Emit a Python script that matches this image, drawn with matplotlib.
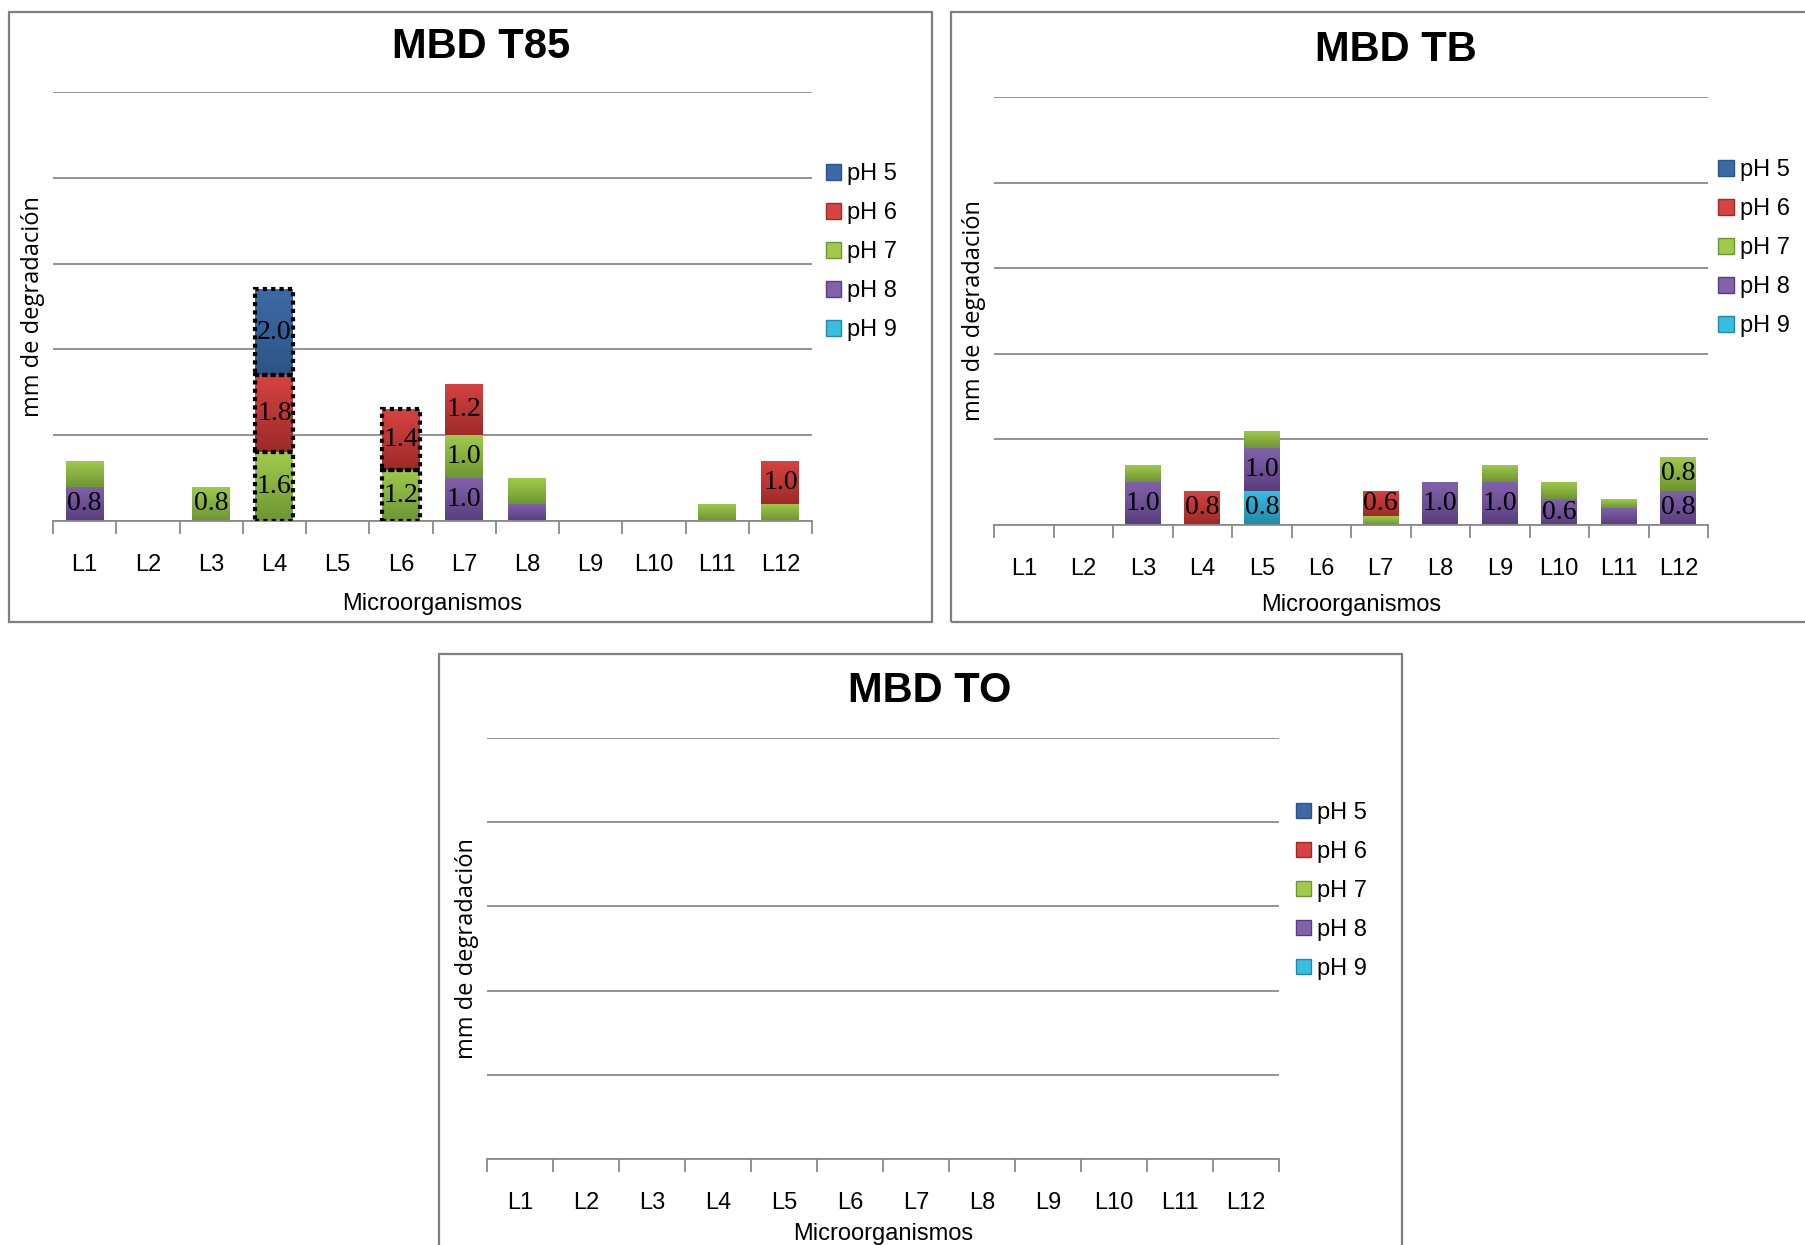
import numpy as np
import matplotlib
matplotlib.use("Agg")
import matplotlib.pyplot as plt
from matplotlib.colors import LinearSegmentedColormap
from matplotlib.patches import Patch, Rectangle

plt.rcParams['font.family'] = ['Liberation Sans', 'DejaVu Sans']

categories = ["L1", "L2", "L3", "L4", "L5", "L6", "L7", "L8", "L9", "L10", "L11", "L12"]
series_names = ["pH 5", "pH 6", "pH 7", "pH 8", "pH 9"]

# T85 values (mm)
t85_ph5 = [0, 0, 0, 2.0, 0, 0, 0, 0, 0, 0, 0, 0]
t85_ph6 = [0, 0, 0, 1.8, 0, 1.4, 1.2, 0, 0, 0, 0, 1.0]
t85_ph7 = [0.6, 0, 0.8, 1.6, 0, 1.2, 1.0, 0.6, 0, 0, 0.4, 0.4]
t85_ph8 = [0.8, 0, 0, 0, 0, 0, 1.0, 0.4, 0, 0, 0, 0]
t85_ph9 = [0] * 12

# TB values (mm)
tb_ph5 = [0] * 12
tb_ph6 = [0, 0, 0, 0.8, 0, 0, 0.6, 0, 0, 0, 0, 0]
tb_ph7 = [0, 0, 0.4, 0, 0.4, 0, 0.2, 0, 0.4, 0.4, 0.2, 0.8]
tb_ph8 = [0, 0, 1.0, 0, 1.0, 0, 0, 1.0, 1.0, 0.6, 0.4, 0.8]
tb_ph9 = [0, 0, 0, 0, 0.8, 0, 0, 0, 0, 0, 0, 0]

# TO values (mm)
to_ph5 = [0] * 12
to_ph6 = [0] * 12
to_ph7 = [0] * 12
to_ph8 = [0] * 12
to_ph9 = [0] * 12

# which segments carry a data label: (series, category)
t85_labels = [("pH 8", "L1"), ("pH 7", "L3"), ("pH 7", "L4"), ("pH 6", "L4"), ("pH 5", "L4"),
              ("pH 7", "L6"), ("pH 6", "L6"), ("pH 8", "L7"), ("pH 7", "L7"), ("pH 6", "L7"),
              ("pH 6", "L12")]
tb_labels = [("pH 8", "L3"), ("pH 6", "L4"), ("pH 9", "L5"), ("pH 8", "L5"), ("pH 6", "L7"),
             ("pH 8", "L8"), ("pH 8", "L9"), ("pH 8", "L10"), ("pH 8", "L12"), ("pH 7", "L12")]
# segments drawn with a dotted outline
t85_dotted = [("pH 7", "L4"), ("pH 6", "L4"), ("pH 5", "L4"), ("pH 7", "L6"), ("pH 6", "L6")]

# (top, bottom) colours of the gradient for each series
colors = {
    "pH 5": ("#3d6aa6", "#2c5486"),
    "pH 6": ("#d64341", "#9e2a28"),
    "pH 7": ("#a0ca4c", "#6e9632"),
    "pH 8": ("#8262ab", "#593e7e"),
    "pH 9": ("#36bde0", "#2389aa"),
}
# stacking order, bottom to top
stack_order = ["pH 9", "pH 8", "pH 7", "pH 6", "pH 5"]


def draw_panel(fig, rect, title, title_xy, data, labels=(), dotted=(), legend_xy=(0, 0), xpad=9):
    ax = fig.add_axes(rect)
    x = np.arange(len(categories))
    bottom = np.zeros(len(categories))
    grad = np.linspace(1, 0, 64).reshape(-1, 1)
    for name in stack_order:
        vals = np.array(data[name], dtype=float)
        top_c, bot_c = colors[name]
        bars = ax.bar(x, vals, width=0.6, bottom=bottom, color=bot_c, linewidth=0, zorder=2)
        cmap = LinearSegmentedColormap.from_list(name, [bot_c, top_c])
        for i, b in enumerate(bars):
            if vals[i] <= 0:
                continue
            bx, by = b.get_x(), b.get_y()
            bw, bh = b.get_width(), b.get_height()
            im = ax.imshow(grad, extent=[bx, bx + bw, by, by + bh], aspect="auto",
                           cmap=cmap, vmin=0, vmax=1, zorder=2.5, interpolation="bicubic")
            im.set_clip_path(b)
            if (name, categories[i]) in dotted:
                ax.add_patch(Rectangle((bx, by), bw, bh, fill=False, edgecolor="black",
                                       linestyle=(0, (1, 1)), linewidth=3, zorder=4))
            if (name, categories[i]) in labels:
                ax.text(bx + bw / 2, by + bh / 2, f"{vals[i]:.1f}", ha="center", va="center",
                        fontsize=20, color="black", zorder=5,
                        family=["Liberation Serif", "DejaVu Serif"])
        bottom += vals

    ax.set_xlim(-0.5, len(categories) - 0.5)
    ax.set_ylim(0, 10)
    ax.set_yticks([0, 2, 4, 6, 8, 10])
    ax.yaxis.grid(True, color="#8a8a8a", linewidth=1.3)
    ax.set_axisbelow(True)
    ax.tick_params(axis="y", left=False, labelleft=False)
    for s in ["top", "right", "left"]:
        ax.spines[s].set_visible(False)
    ax.spines["bottom"].set_color("#8a8a8a")
    ax.spines["bottom"].set_linewidth(1.3)
    ax.set_xticks(np.arange(-0.5, len(categories)), minor=False)
    ax.set_xticklabels([])
    ax.tick_params(axis="x", which="major", direction="out", length=9, color="#8a8a8a", width=1.3)
    ax.set_xticks(x, minor=True)
    ax.set_xticklabels(categories, minor=True, fontsize=17)
    ax.tick_params(axis="x", which="minor", length=0, pad=24)
    ax.set_xlabel("Microorganismos", fontsize=17, labelpad=xpad)
    ax.set_ylabel("mm de degradación", fontsize=17, family=["Open Sans", "DejaVu Sans"], labelpad=6)

    fig.text(title_xy[0], title_xy[1], title, ha="center", va="center", fontsize=30,
             fontweight="bold")

    handles = [Patch(facecolor=colors[n][0], edgecolor=colors[n][1], label=n) for n in series_names]
    fig.legend(handles=handles, loc="upper left", bbox_to_anchor=legend_xy, frameon=False,
               fontsize=17, handlelength=0.65, handleheight=0.65, handletextpad=0.25,
               labelspacing=0.72, borderpad=0, borderaxespad=0)
    return ax


fig = plt.figure(figsize=(18.05, 12.45), dpi=100)

# panel frames
fig.patches.append(Rectangle((0.005, 0.5004), 0.5114, 0.49, transform=fig.transFigure,
                             fill=False, edgecolor="#7f7f7f", linewidth=1.6))
fig.patches.append(Rectangle((0.5269, 0.5004), 0.49, 0.49, transform=fig.transFigure,
                             fill=False, edgecolor="#7f7f7f", linewidth=1.6))
fig.patches.append(Rectangle((0.2432, -0.02), 0.5335, 0.4947, transform=fig.transFigure,
                             fill=False, edgecolor="#7f7f7f", linewidth=1.6))

t85 = {"pH 5": t85_ph5, "pH 6": t85_ph6, "pH 7": t85_ph7, "pH 8": t85_ph8, "pH 9": t85_ph9}
tb = {"pH 5": tb_ph5, "pH 6": tb_ph6, "pH 7": tb_ph7, "pH 8": tb_ph8, "pH 9": tb_ph9}
to = {"pH 5": to_ph5, "pH 6": to_ph6, "pH 7": to_ph7, "pH 8": to_ph8, "pH 9": to_ph9}

draw_panel(fig, [0.0294, 0.5815, 0.4205, 0.3446], "MBD T85", (0.2665, 0.962), t85,
           labels=t85_labels, dotted=t85_dotted, legend_xy=(0.4576, 0.869), xpad=12)
draw_panel(fig, [0.5507, 0.5783, 0.3956, 0.3438], "MBD TB", (0.7734, 0.960), tb,
           labels=tb_labels, legend_xy=(0.952, 0.872), xpad=10)
draw_panel(fig, [0.2698, 0.0691, 0.4388, 0.3382], "MBD TO", (0.5152, 0.445), to,
           legend_xy=(0.718, 0.356), xpad=6)

fig.savefig("out.png", dpi=100, facecolor="white")
